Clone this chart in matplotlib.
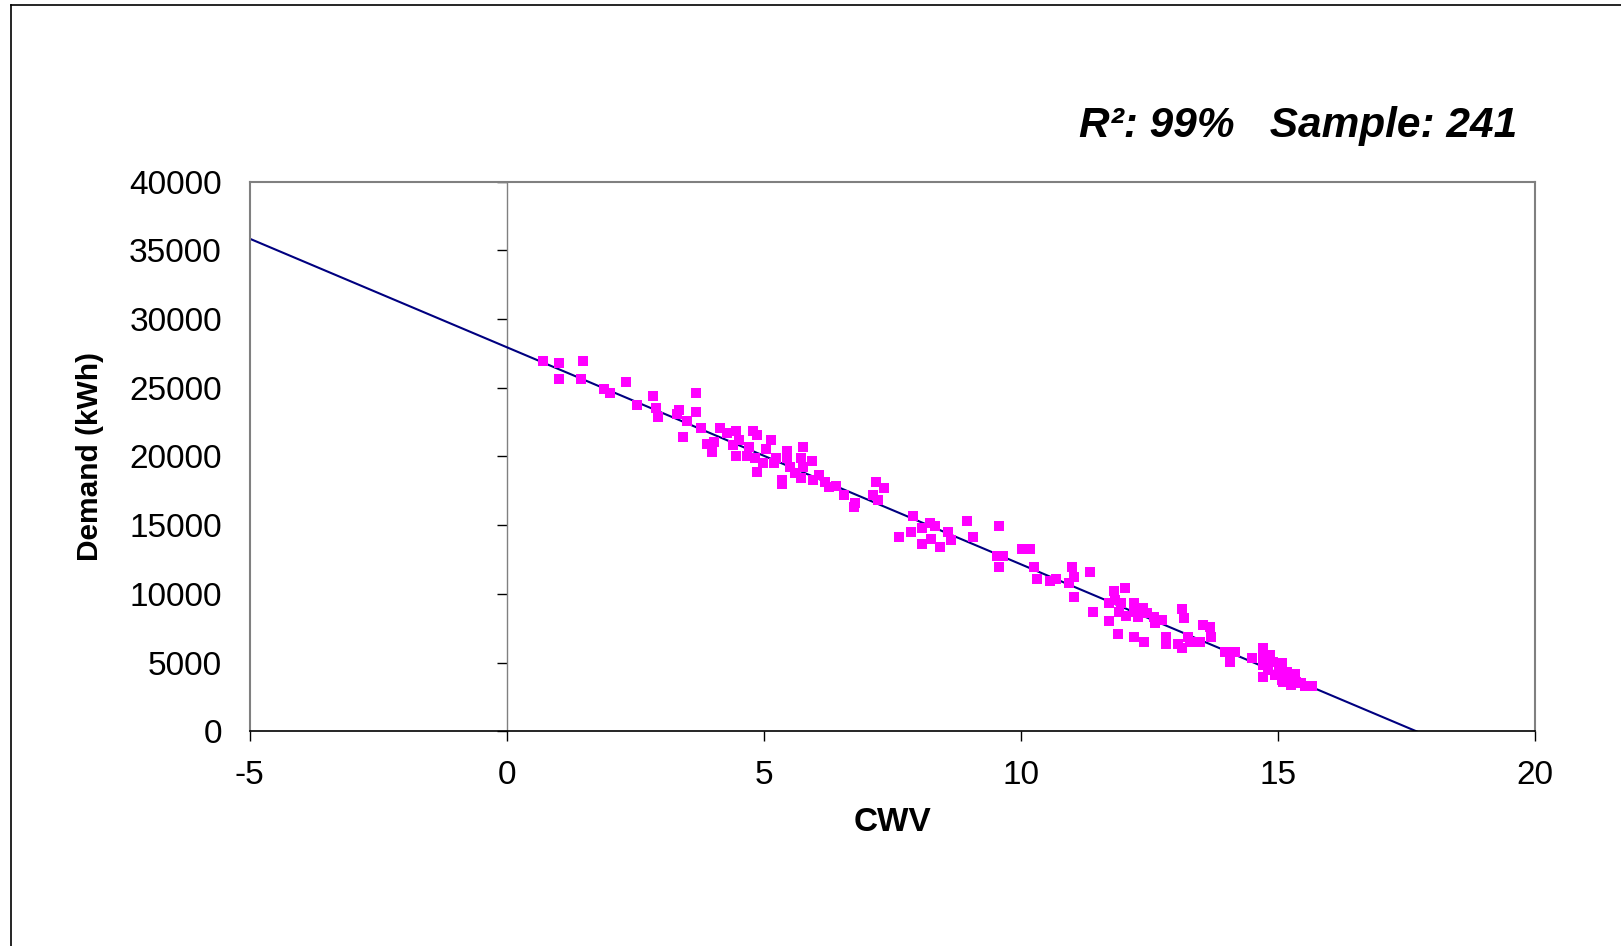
import numpy as np
import matplotlib
matplotlib.use("Agg")
import matplotlib.pyplot as plt
from matplotlib.lines import Line2D

plt.rcParams['font.family'] = ['Liberation Sans', 'DejaVu Sans']
plt.rcParams['axes.unicode_minus'] = False

# observed points (CWV, demand in kWh)
cwv = [0.71, 1.02, 1.49, 1.02, 1.44, 2.32, 1.90, 2.01, 2.53, 2.84,
       2.90, 2.95, 3.68, 3.68, 3.36, 3.31, 3.51, 3.42, 3.78, 4.15,
       4.28, 4.46, 4.52, 4.78, 4.86, 5.14, 3.89, 4.04, 4.00, 4.41,
       4.72, 4.46, 4.67, 4.83, 5.04, 4.99, 4.87, 5.24, 5.19, 5.46,
       5.77, 5.45, 5.51, 5.72, 5.93, 5.61, 5.72, 5.35, 5.35, 5.77,
       5.96, 6.08, 6.19, 6.26, 6.41, 6.55, 6.78, 6.76, 7.18, 7.34,
       7.12, 7.23, 7.62, 7.91, 7.86, 8.07, 8.23, 8.33, 8.26, 8.07,
       8.43, 8.59, 8.64, 8.95, 9.06, 9.58, 9.53, 9.65, 9.58, 10.02,
       10.17, 10.26, 10.31, 10.57, 10.68, 10.99, 11.04, 10.94, 11.04, 11.35,
       11.41, 11.82, 12.03, 11.72, 11.83, 11.94, 11.91, 12.19, 12.05, 12.19,
       12.27, 12.38, 12.45, 12.59, 12.74, 12.60, 11.72, 11.88, 12.19, 12.40,
       12.82, 12.82, 13.13, 13.18, 13.24, 13.06, 13.13, 13.29, 13.49, 13.54,
       13.67, 13.70, 13.97, 14.16, 14.07, 14.49, 14.70, 14.70, 14.70, 14.70,
       14.85, 14.91, 14.81, 14.94, 15.07, 15.07, 15.01, 15.17, 15.23, 15.33,
       15.26, 15.35, 15.45, 15.53, 15.66, 15.10]
demand = [26950, 26780, 26950, 25620, 25620, 25420, 24910, 24600, 23750, 24430,
          23550, 22880, 24600, 23240, 23380, 23070, 22560, 21400, 22050, 22050,
          21730, 21880, 21200, 21880, 21570, 21200, 20910, 21080, 20350, 20840,
          20710, 20040, 20040, 19870, 20520, 19550, 18870, 19870, 19500, 20400,
          20710, 19870, 19260, 19870, 19700, 18780, 18410, 18290, 18000, 19260,
          18290, 18650, 18170, 17800, 17850, 17200, 16640, 16350, 18170, 17690,
          17200, 16830, 14160, 15670, 14480, 14820, 15180, 14960, 13970, 13630,
          13430, 14480, 13920, 15300, 14120, 14960, 12760, 12760, 11940, 13270,
          13270, 11940, 11060, 10940, 11080, 11940, 11250, 10770, 9750, 11620,
          8700, 10230, 10410, 9360, 9560, 9360, 8700, 9360, 8390, 8700,
          8340, 8950, 8590, 8300, 8100, 7860, 8050, 7060, 6890, 6520,
          6890, 6350, 8900, 8270, 6890, 6350, 6040, 6520, 6520, 7740,
          7570, 6890, 5790, 5790, 5020, 5360, 6040, 5430, 4830, 3970,
          5550, 5070, 4460, 4100, 4950, 3730, 4460, 4340, 3970, 4170,
          3370, 3610, 3540, 3300, 3300, 3610]

# linear fit shown on the chart
fit_intercept = 27950
fit_slope = -1580

x_ticks = [-5, 0, 5, 10, 15, 20]
y_ticks = [0, 5000, 10000, 15000, 20000, 25000, 30000, 35000, 40000]

fig = plt.figure(figsize=(16.21, 9.46), dpi=100)
ax = fig.add_axes([0.154, 0.227, 0.793, 0.581])

ax.set_xlim(-5, 20)
ax.set_ylim(0, 40000)

xs = np.array(ax.get_xlim())
ax.plot(xs, fit_intercept + fit_slope * xs, color='#000080', lw=1.5, zorder=2)
ax.scatter(cwv, demand, marker='s', s=42, color='#ff00ff', linewidths=0, zorder=3)

ax.set_xticks(x_ticks)
ax.set_yticks(y_ticks)
ax.tick_params(axis='x', direction='out', length=7, width=1, color='black',
               labelsize=24, pad=14)
ax.tick_params(axis='y', length=0, labelsize=24, pad=20)

for side in ['top', 'right', 'left']:
    ax.spines[side].set_color('#808080')
    ax.spines[side].set_linewidth(1.5)
ax.spines['bottom'].set_color('black')
ax.spines['bottom'].set_linewidth(1.2)

# vertical axis crossing at CWV = 0 (ticks only)
sec = ax.secondary_yaxis(0.2)
sec.set_yticks(y_ticks)
sec.tick_params(axis='y', direction='out', length=7, width=1, color='black',
                labelleft=False)
sec.spines['left'].set_color('#808080')
sec.spines['left'].set_linewidth(1)

ax.set_xlabel('CWV', fontsize=24, fontweight='bold', labelpad=11)
ax.set_ylabel('Demand (kWh)', fontsize=21.5, fontweight='bold')
ax.yaxis.set_label_coords(-0.113, 0.5)

fig.text(1517 / 1621, 1 - 137.5 / 946, 'R²: 99%   Sample: 241',
         fontsize=30.5, fontweight='bold', fontstyle='italic',
         ha='right', va='baseline')

# outer chart frame
x0 = 10.5 / 1621
y0 = 1 - 5 / 946
fig.add_artist(Line2D([x0, x0], [0, y0], color='black', lw=1.2))
fig.add_artist(Line2D([x0, 1], [y0, y0], color='black', lw=1.2))

fig.savefig('out.png', dpi=100)
